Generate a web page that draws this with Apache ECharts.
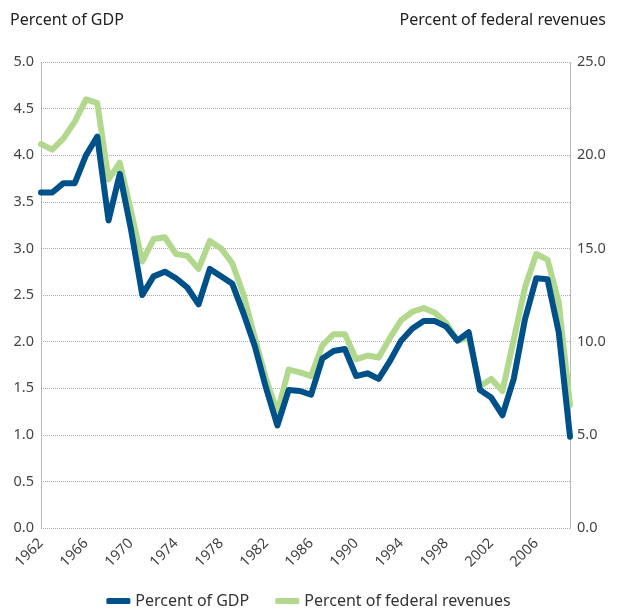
<!DOCTYPE html>
<html>
<head>
<meta charset="utf-8">
<script src="https://cdn.jsdelivr.net/npm/echarts@6/dist/echarts.min.js"></script>
<style>html,body{margin:0;padding:0;background:#fff}#c{width:617px;height:615px}</style>
</head>
<body>
<div id="c"></div>
<script>
var years = [];
for (var y = 1962; y <= 2009; y++) years.push(String(y));
var pctGDP = [3.6,3.6,3.7,3.7,4.0,4.2,3.3,3.8,3.2,2.5,2.7,2.75,2.68,2.58,2.4,2.78,2.7,2.62,2.3,1.95,1.5,1.1,1.48,1.47,1.43,1.82,1.9,1.92,1.63,1.66,1.6,1.79,2.01,2.14,2.22,2.22,2.16,2.01,2.1,1.48,1.4,1.21,1.6,2.24,2.68,2.67,2.1,0.98];
var pctRev = [20.6,20.3,20.9,21.8,23.0,22.8,18.7,19.6,17.0,14.3,15.5,15.6,14.7,14.6,13.9,15.4,15.0,14.2,12.5,10.2,8.0,6.2,8.5,8.35,8.15,9.8,10.4,10.4,9.05,9.25,9.15,10.2,11.15,11.6,11.8,11.55,11.0,10.05,10.2,7.6,8.0,7.35,10.1,12.9,14.7,14.4,12.1,6.6];
var leftTicks = {min:0, max:5, interval:0.5};
var rightTicks = {min:0, max:25, interval:5};

var font = '"Noto Sans", sans-serif';
var chart = echarts.init(document.getElementById('c'), null, {renderer:'canvas'});
chart.setOption({
  animation: false,
  backgroundColor: '#fff',
  textStyle: {fontFamily: font},
  title: [
    {text: 'Percent of GDP', left: 5, top: 7, textStyle: {fontFamily: font, fontSize: 16, fontWeight: 'normal', color: '#222'}},
    {text: 'Percent of federal revenues', right: 6, top: 7, textStyle: {fontFamily: font, fontSize: 16, fontWeight: 'normal', color: '#222'}}
  ],
  legend: {
    bottom: 1, left: 'center', itemWidth: 24, itemHeight: 6, itemGap: 26,
    icon: 'roundRect',
    textStyle: {fontFamily: font, fontSize: 16, color: '#333'},
    data: ['Percent of GDP', 'Percent of federal revenues']
  },
  grid: {left: 41, right: 47, top: 62, bottom: 87, containLabel: false},
  xAxis: {
    type: 'category', data: years, boundaryGap: false,
    axisLine: {show: false}, axisTick: {show: false},
    axisLabel: {interval: 3, rotate: 45, color: '#444', fontSize: 14.5, fontFamily: font, margin: 13},
    splitLine: {show: false}
  },
  yAxis: [
    {type: 'value', min: leftTicks.min, max: leftTicks.max, interval: leftTicks.interval,
     axisLine: {show: true, lineStyle: {color: '#aaa', type: 'dotted'}}, axisTick: {show: false},
     axisLabel: {formatter: function(v){return v.toFixed(1);}, color: '#444', fontSize: 14.5, fontFamily: font, margin: 7},
     splitLine: {show: true, lineStyle: {color: '#aaa', type: 'dotted'}}},
    {type: 'value', min: rightTicks.min, max: rightTicks.max, interval: rightTicks.interval,
     axisLine: {show: true, lineStyle: {color: '#aaa', type: 'dotted'}}, axisTick: {show: false},
     axisLabel: {formatter: function(v){return v.toFixed(1);}, color: '#444', fontSize: 14.5, fontFamily: font, margin: 7},
     splitLine: {show: false}}
  ],
  series: [
    {name: 'Percent of GDP', type: 'line', data: pctGDP, yAxisIndex: 0, symbol: 'none',
     lineStyle: {width: 6, color: '#00508a', join: 'round', cap: 'round'}, itemStyle: {color: '#00508a'}, z: 3},
    {name: 'Percent of federal revenues', type: 'line', data: pctRev, yAxisIndex: 1, symbol: 'none',
     lineStyle: {width: 6, color: '#b2d88e', join: 'round', cap: 'round'}, itemStyle: {color: '#b2d88e'}, z: 2}
  ]
});
</script>
</body>
</html>
